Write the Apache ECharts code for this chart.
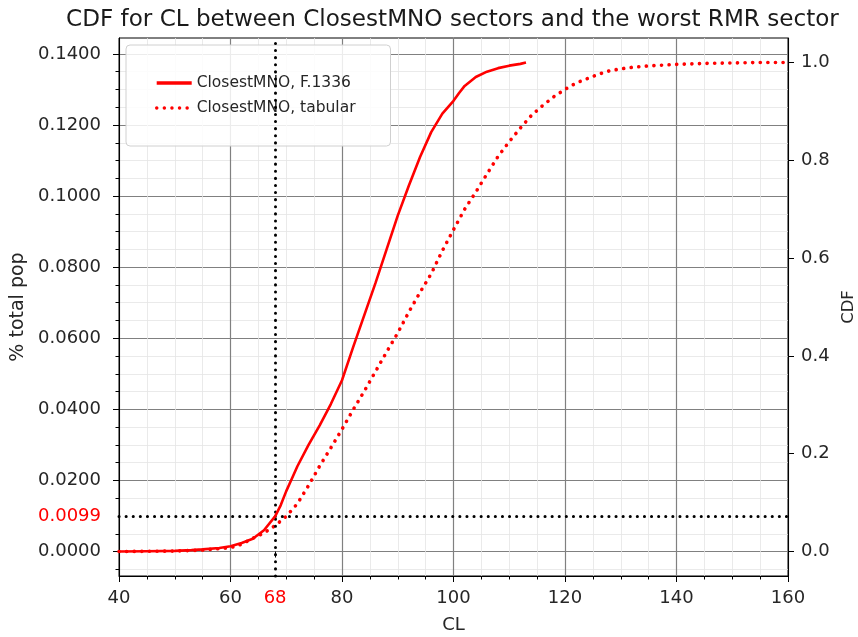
<!DOCTYPE html>
<html>
<head>
<meta charset="utf-8">
<script src="https://cdn.jsdelivr.net/npm/echarts@6/dist/echarts.min.js"></script>
<style>
html,body{margin:0;padding:0;background:#fff;}
#chart{width:858px;height:637px;}
</style>
</head>
<body>
<div id="chart"></div>
<script>
// ---- data ----
const solidCL  = [40, 45, 50, 53, 55, 58, 60, 62, 64, 66, 68, 69, 70, 71, 72, 74, 76, 78, 80, 82, 84, 86, 88, 90, 92, 94, 96, 98, 100, 101, 102, 104, 106, 108, 110, 112, 113];
const solidPop = [0, 0.0001, 0.0002, 0.0004, 0.0006, 0.0010, 0.0015, 0.0024, 0.0036, 0.0060, 0.0099, 0.0130, 0.0170, 0.0205, 0.0240, 0.0300, 0.0355, 0.0415, 0.0482, 0.0575, 0.0665, 0.0755, 0.0850, 0.0945, 0.1030, 0.1110, 0.1180, 0.1232, 0.1268, 0.1290, 0.1310, 0.1335, 0.1350, 0.1360, 0.1367, 0.1372, 0.1376];

const tabCL  = [40, 50, 55, 60, 62, 64, 66, 68, 70, 72, 74, 76, 78, 80, 82, 84, 86, 88, 90, 92, 94, 96, 98, 100, 102, 104, 106, 108, 110, 112, 114, 116, 118, 120, 122, 124, 126, 128, 130, 132, 135, 140, 145, 150, 155, 160];
const tabCDF = [0, 0.001, 0.003, 0.008, 0.015, 0.027, 0.038, 0.053, 0.072, 0.098, 0.135, 0.175, 0.212, 0.250, 0.290, 0.328, 0.368, 0.408, 0.447, 0.490, 0.530, 0.568, 0.615, 0.658, 0.700, 0.735, 0.772, 0.808, 0.838, 0.866, 0.892, 0.912, 0.930, 0.945, 0.958, 0.967, 0.976, 0.983, 0.987, 0.990, 0.993, 0.996, 0.998, 0.999, 1.0, 1.0];

const seriesNames = ['ClosestMNO, F.1336', 'ClosestMNO, tabular'];
const markCL  = [68];
const markPop = [0.0099];

const leftTicks   = [0, 0.02, 0.04, 0.06, 0.08, 0.10, 0.12, 0.14];
const leftMinor   = [-0.005, 0.005, 0.015, 0.025, 0.03, 0.035, 0.045, 0.05, 0.055, 0.065, 0.07, 0.075, 0.085, 0.09, 0.095, 0.105, 0.11, 0.115, 0.125, 0.13, 0.135];
const rightTicks  = [0, 0.2, 0.4, 0.6, 0.8, 1.0];

// axis extents (matplotlib-style 5% margins)
const popMax = Math.max(...solidPop);
const leftMin = -0.05 * popMax, leftMax = 1.05 * popMax;
const rightMin = -0.05, rightMax = 1.05;

const FONT = 'DejaVu Sans';
const RED = '#ff0000';
const TXT = '#262626';

const chart = echarts.init(document.getElementById('chart'), null, {renderer: 'canvas'});
chart.setOption({
  animation: false,
  backgroundColor: '#fff',
  textStyle: {fontFamily: FONT},
  title: {
    text: 'CDF for CL between ClosestMNO sectors and the worst RMR sector',
    left: 61, top: 3,
    textStyle: {fontFamily: FONT, fontSize: 23.1, fontWeight: 'normal', color: '#1a1a1a'}
  },
  grid: {left: 119, right: 70, top: 38, bottom: 61, show: true, borderColor: '#000', borderWidth: 1,
         backgroundColor: 'transparent', containLabel: false, outerBoundsMode: 'none'},
  legend: {
    orient: 'vertical', left: 126, top: 45,
    padding: [30, 35, 30, 29],
    itemGap: 9, itemWidth: 35, itemHeight: 14,
    backgroundColor: 'rgba(255,255,255,0.85)', borderColor: '#d0d0d0', borderWidth: 1, borderRadius: 4,
    itemStyle: {opacity: 0},
    lineStyle: {width: 3.4},
    textStyle: {fontFamily: FONT, fontSize: 15.5, color: TXT},
    data: seriesNames
  },
  xAxis: [
    {
      type: 'value', min: 40, max: 160, interval: 20, position: 'bottom',
      name: 'CL', nameLocation: 'middle', nameGap: 40,
      nameTextStyle: {fontFamily: FONT, fontSize: 18, color: TXT},
      axisLine: {show: true, onZero: false, lineStyle: {color: '#000', width: 1}},
      axisTick: {show: true, inside: false, length: 6, lineStyle: {color: '#000'}},
      minorTick: {show: true, splitNumber: 4, length: 3.5, lineStyle: {color: '#000'}},
      axisLabel: {fontFamily: FONT, fontSize: 18, color: TXT, margin: 13},
      splitLine: {show: true, lineStyle: {color: '#808080', width: 1.2}},
      minorSplitLine: {show: true, lineStyle: {color: '#e4e4e4', width: 0.8}}
    },
    {
      type: 'value', min: 40, max: 160, position: 'bottom',
      axisLine: {show: false},
      axisTick: {show: true, length: 6, customValues: markCL, lineStyle: {color: '#000'}},
      axisLabel: {fontFamily: FONT, fontSize: 18, color: RED, margin: 13, customValues: markCL},
      splitLine: {show: false}
    }
  ],
  yAxis: [
    {
      type: 'value', min: leftMin, max: leftMax, position: 'left',
      name: '% total pop', nameLocation: 'middle', nameGap: 91, nameRotate: 90,
      nameTextStyle: {fontFamily: FONT, fontSize: 19, color: TXT},
      axisLine: {show: true, onZero: false, lineStyle: {color: '#000'}},
      axisTick: {show: true, length: 6, customValues: leftTicks, lineStyle: {color: '#000'}},
      axisLabel: {fontFamily: FONT, fontSize: 18, color: TXT, margin: 18, customValues: leftTicks,
                  formatter: v => v.toFixed(4)},
      splitLine: {show: true, lineStyle: {color: '#808080', width: 1.2}}
    },
    {
      type: 'value', min: leftMin, max: leftMax, position: 'left',
      axisLine: {show: false},
      axisTick: {show: true, length: 3.5, customValues: leftMinor, lineStyle: {color: '#000'}},
      axisLabel: {fontFamily: FONT, fontSize: 18, color: RED, margin: 18, customValues: markPop,
                  formatter: v => v.toFixed(4)},
      splitLine: {show: true, lineStyle: {color: '#e4e4e4', width: 0.8}}
    },
    {
      type: 'value', min: rightMin, max: rightMax, position: 'right',
      name: 'CDF', nameLocation: 'middle', nameGap: 47, nameRotate: 90,
      nameTextStyle: {fontFamily: FONT, fontSize: 16.5, color: TXT},
      axisLine: {show: true, onZero: false, lineStyle: {color: '#000'}},
      axisTick: {show: true, length: 6, customValues: rightTicks, lineStyle: {color: '#000'}},
      axisLabel: {fontFamily: FONT, fontSize: 18, color: TXT, margin: 13, customValues: rightTicks,
                  formatter: v => v.toFixed(1)},
      splitLine: {show: false}
    }
  ],
  series: [
    {
      name: seriesNames[0], type: 'line', xAxisIndex: 0, yAxisIndex: 0,
      data: solidCL.map((x, i) => [x, solidPop[i]]),
      showSymbol: false, symbol: 'none', color: RED, z: 5,
      lineStyle: {color: RED, width: 2.6},
      markLine: {
        silent: true, symbol: 'none', animation: false,
        label: {show: false},
        lineStyle: {color: '#000', width: 3, type: [0.1, 7], cap: 'round'},
        data: [{xAxis: markCL[0]}, {yAxis: markPop[0]}]
      }
    },
    {
      name: seriesNames[1], type: 'line', xAxisIndex: 0, yAxisIndex: 2,
      data: tabCL.map((x, i) => [x, tabCDF[i]]),
      showSymbol: false, symbol: 'none', color: RED, z: 4,
      lineStyle: {color: RED, width: 3.6, type: [0.1, 7.5], cap: 'round'}
    }
  ]
});
</script>
</body>
</html>
